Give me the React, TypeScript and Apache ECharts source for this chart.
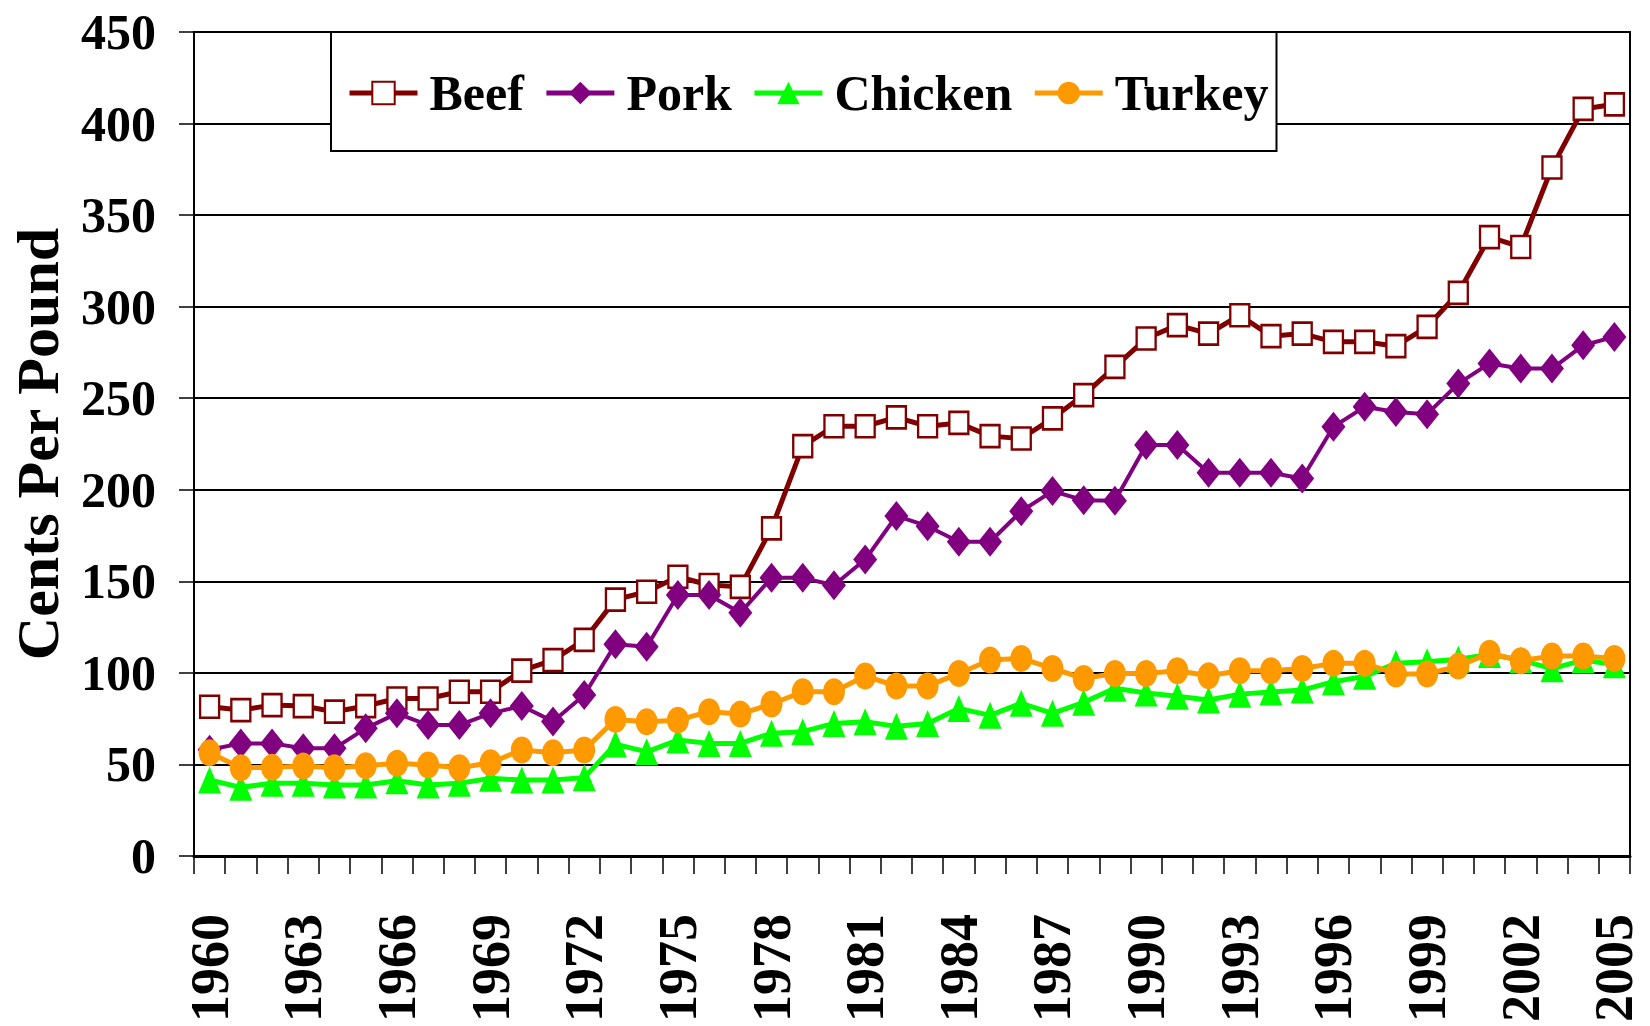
import React, { useEffect, useRef } from "react";
import * as echarts from "echarts";

const years = [
  "1960", "1961", "1962", "1963", "1964", "1965", "1966", "1967", "1968", "1969",
  "1970", "1971", "1972", "1973", "1974", "1975", "1976", "1977", "1978", "1979",
  "1980", "1981", "1982", "1983", "1984", "1985", "1986", "1987", "1988", "1989",
  "1990", "1991", "1992", "1993", "1994", "1995", "1996", "1997", "1998", "1999",
  "2000", "2001", "2002", "2003", "2004", "2005",
];

const beef = [
  81.5, 79.7, 82.4, 81.9, 78.8, 81.9, 86, 86, 89.7, 89.7,
  101.2, 107, 118, 140, 144.3, 152.5, 148, 147, 178.9, 223.8,
  234.7, 234.7, 239.5, 234.7, 236.5, 229.3, 228, 239, 251.7, 267.1,
  282.6, 289.9, 285.3, 295.3, 283.9, 285.3, 280.8, 280.8, 278.4, 289,
  307.5, 338, 332.6, 376, 408, 410.5,
];

const pork = [
  58, 61.5, 61.5, 58.8, 58.8, 69.7, 77.9, 71.5, 71.5, 77.9,
  81.9, 73.5, 87.9, 115.6, 114.3, 142.5, 142.5, 132.8, 151.9, 151.9,
  147.9, 161.9, 185.7, 180.1, 171.6, 171.6, 188.3, 199.3, 194.3, 194,
  224.4, 224.4, 209.3, 209.3, 209.3, 206.2, 234.4, 245.3, 242.5, 241.3,
  258, 269, 266.2, 266.2, 278.9, 283.5,
];

const chicken = [
  41.5, 37.5, 39.7, 39.7, 38.8, 38.8, 41.1, 38.8, 39.7, 42.4,
  41.5, 41.5, 42.8, 61.1, 56.9, 63.3, 61.5, 61.5, 67, 67.9,
  72.4, 73.3, 70.8, 72.4, 80.6, 76.8, 83.4, 77.9, 83.9, 91.6,
  89, 87.2, 85.2, 88.4, 89.5, 90.6, 95.2, 98.1, 105.2, 106.1,
  107.4, 110, 107, 102.3, 107, 104.5,
];

const turkey = [
  56.4, 48.2, 48.4, 49.1, 48.2, 49.3, 50.6, 49.7, 48.2, 50.9,
  57.9, 56.4, 57.9, 74.6, 73.3, 74.2, 78.8, 77.5, 83, 89.7,
  89.7, 98.3, 92.8, 92.8, 99.7, 107, 107.9, 102.4, 97, 99.7,
  99.7, 101.2, 98.4, 101.2, 101.2, 102.4, 105.2, 105.2, 99.4, 99.4,
  103.7, 110.7, 106.6, 109.2, 109.2, 107.9,
];

const seriesNames = ["Beef", "Pork", "Chicken", "Turkey"];
const yAxisTitle = "Cents Per Pound";

const FONT = "'Liberation Serif', 'Times New Roman', serif";

export default function App() {
  const ref = useRef<HTMLDivElement>(null);

  useEffect(() => {
    if (!ref.current) return;
    const chart = echarts.init(ref.current, null, { renderer: "svg" });
    chart.setOption({
      animation: false,
      backgroundColor: "#ffffff",
      grid: {
        left: 189,
        right: 20,
        top: 32,
        bottom: 170,
        show: true,
        borderColor: "#000",
        borderWidth: 2,
        backgroundColor: "transparent",
      },
      legend: {
        data: seriesNames,
        left: 331,
        top: 32,
        orient: "horizontal",
        backgroundColor: "#ffffff",
        borderColor: "#000",
        borderWidth: 2,
        padding: [36, 8, 33, 16],
        itemGap: 20,
        itemWidth: 68,
        itemHeight: 28,
        lineStyle: { width: 5 },
        textStyle: {
          fontFamily: FONT,
          fontWeight: "bold",
          fontSize: 50,
          color: "#000",
          padding: [0, 0, 0, 7],
        },
      },
      xAxis: {
        type: "category",
        data: years,
        boundaryGap: true,
        axisLine: { show: true, lineStyle: { color: "#000", width: 3 } },
        axisTick: {
          show: true,
          interval: 0,
          length: 18,
          inside: false,
          lineStyle: { color: "#000", width: 1.5 },
        },
        axisLabel: {
          interval: 2,
          rotate: 90,
          margin: 58,
          fontFamily: FONT,
          fontWeight: "bold",
          fontSize: 54,
          color: "#000",
        },
        splitLine: { show: false },
      },
      yAxis: {
        type: "value",
        min: 0,
        max: 450,
        interval: 50,
        name: yAxisTitle,
        nameLocation: "middle",
        nameRotate: 90,
        nameGap: 126,
        nameTextStyle: {
          fontFamily: FONT,
          fontWeight: "bold",
          fontSize: 60,
          color: "#000",
        },
        axisLine: { show: true, lineStyle: { color: "#000", width: 2 } },
        axisTick: {
          show: true,
          length: 15,
          lineStyle: { color: "#000", width: 1.5 },
        },
        axisLabel: {
          margin: 38,
          fontFamily: FONT,
          fontWeight: "bold",
          fontSize: 50,
          color: "#000",
        },
        splitLine: { show: true, lineStyle: { color: "#000", width: 1.8 } },
      },
      series: [
        {
          name: "Beef",
          type: "line",
          data: beef,
          symbol: "rect",
          symbolSize: [19, 22],
          showSymbol: true,
          showAllSymbol: true,
          lineStyle: { color: "#800000", width: 5 },
          itemStyle: { color: "#ffffff", borderColor: "#800000", borderWidth: 2.5 },
          color: "#800000",
        },
        {
          name: "Pork",
          type: "line",
          data: pork,
          symbol: "diamond",
          symbolSize: [24, 30],
          showSymbol: true,
          showAllSymbol: true,
          lineStyle: { color: "#800080", width: 4 },
          itemStyle: { color: "#800080" },
          color: "#800080",
        },
        {
          name: "Chicken",
          type: "line",
          data: chicken,
          symbol: "triangle",
          symbolSize: [23, 27],
          showSymbol: true,
          showAllSymbol: true,
          lineStyle: { color: "#00ff00", width: 5 },
          itemStyle: { color: "#00ff00" },
          color: "#00ff00",
        },
        {
          name: "Turkey",
          type: "line",
          data: turkey,
          symbol: "circle",
          symbolSize: [22, 27],
          showSymbol: true,
          showAllSymbol: true,
          lineStyle: { color: "#ff9900", width: 5 },
          itemStyle: { color: "#ff9900" },
          color: "#ff9900",
        },
      ],
    });
    return () => chart.dispose();
  }, []);

  return (
    <div
      ref={ref}
      style={{ position: "fixed", left: 0, top: 0, width: 1650, height: 1026, background: "#fff" }}
    />
  );
}
